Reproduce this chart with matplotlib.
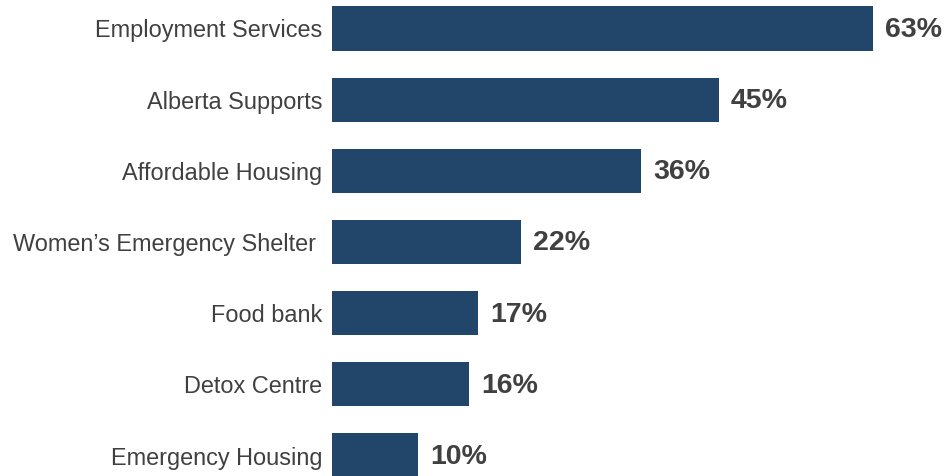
import matplotlib
matplotlib.use("Agg")
import matplotlib.pyplot as plt

categories = ["Employment Services", "Alberta Supports", "Affordable Housing",
              "Women\u2019s Emergency Shelter ", "Food bank", "Detox Centre", "Emergency Housing"]
values = [63, 45, 36, 22, 17, 16, 10]

plt.rcParams['font.family'] = ['Liberation Sans', 'DejaVu Sans']
fig = plt.figure(figsize=(9.47, 4.76), dpi=100)
ax = fig.add_axes([332/947, 0, 1 - 332/947, 1])
y = list(range(len(categories)))
ax.barh(y, values, height=0.62, color="#21466A")
ax.set_xlim(0, (947 - 332) / 8.59)
ax.set_ylim(6.288, -0.40)
ax.set_yticks(y)
ax.set_yticklabels(categories, fontsize=16.9, color="#404040")
ax.tick_params(axis='y', length=0, pad=7)
ax.set_xticks([])
for s in ax.spines.values():
    s.set_visible(False)
for yi, v in zip(y, values):
    ax.text(v + 1.4, yi + 0.02, f"{v}%", va='center', ha='left', fontsize=20.5,
            fontweight='bold', color="#404040")
fig.savefig("out.png", dpi=100)
